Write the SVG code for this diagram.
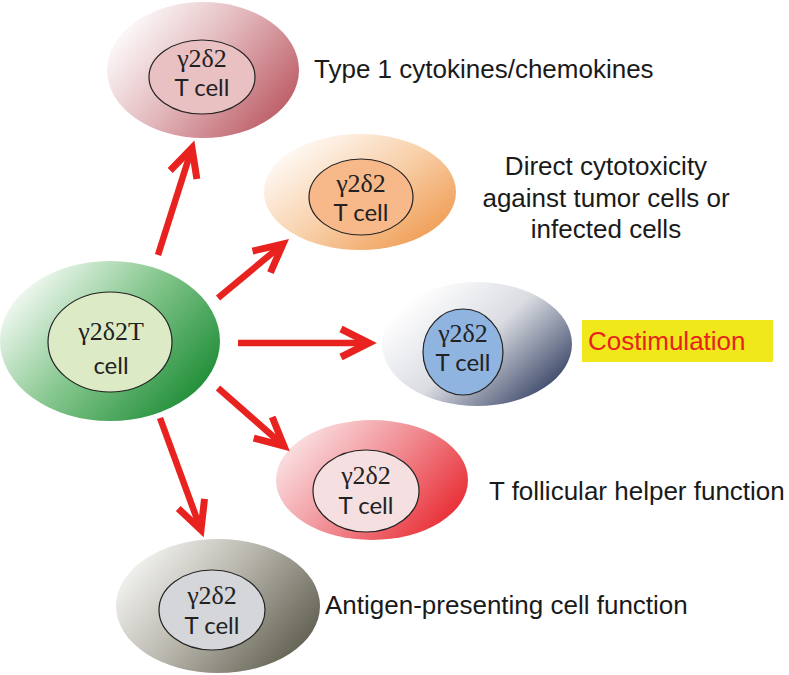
<svg xmlns="http://www.w3.org/2000/svg" width="789" height="675" viewBox="0 0 789 675">
<defs>
<linearGradient id="gTop" x1="0" y1="0.25" x2="1" y2="0.85"><stop offset="0" stop-color="#ffffff"/><stop offset="0.45" stop-color="#e2b8bc"/><stop offset="1" stop-color="#b8505a"/></linearGradient>
<linearGradient id="gOrange" x1="0.05" y1="0.1" x2="1" y2="0.9"><stop offset="0" stop-color="#ffffff"/><stop offset="0.5" stop-color="#f8cfa8"/><stop offset="1" stop-color="#ee9446"/></linearGradient>
<linearGradient id="gGreen" x1="0" y1="0.2" x2="1" y2="0.85"><stop offset="0" stop-color="#ffffff"/><stop offset="0.45" stop-color="#88c890"/><stop offset="1" stop-color="#10852a"/></linearGradient>
<linearGradient id="gBlue" x1="0.1" y1="0.2" x2="1" y2="0.85"><stop offset="0" stop-color="#ffffff"/><stop offset="0.45" stop-color="#dadce2"/><stop offset="1" stop-color="#263458"/></linearGradient>
<linearGradient id="gRed" x1="0" y1="0.25" x2="1" y2="0.8"><stop offset="0" stop-color="#fbe6e8"/><stop offset="0.5" stop-color="#f08a90"/><stop offset="1" stop-color="#e8232a"/></linearGradient>
<linearGradient id="gGray" x1="0" y1="0.25" x2="1" y2="0.8"><stop offset="0" stop-color="#f6f6f4"/><stop offset="0.45" stop-color="#b8b6ac"/><stop offset="1" stop-color="#5a5848"/></linearGradient>
<marker id="arr" markerUnits="userSpaceOnUse" markerWidth="60" markerHeight="60" refX="0" refY="0" viewBox="-40 -30 60 60" orient="auto" overflow="visible">
<path d="M-28,-14 L0,0 L-28,14" fill="none" stroke="#e8231f" stroke-width="7" stroke-linejoin="miter" stroke-miterlimit="10"/>
</marker>
<style>
.inner{stroke:#222;stroke-width:1.2}
.g{font-family:"Liberation Serif","DejaVu Serif",serif;font-size:26px;fill:#222;text-anchor:middle}
.t{font-family:Lato,"Open Sans",sans-serif;font-size:24px;fill:#222;text-anchor:middle}
.lbl{font-family:"Liberation Sans",Arial,sans-serif;font-size:26px;fill:#1a1a1a}
.conn line{stroke:#e8231f;stroke-width:6.5;marker-end:url(#arr)}
</style>
</defs>
<rect width="789" height="675" fill="#ffffff"/>

<g id="cell-top">
<ellipse cx="203" cy="70" rx="96" ry="68" fill="url(#gTop)"/>
<ellipse class="inner" cx="202" cy="77" rx="53" ry="37" fill="#e9c1c3"/>
<text class="g" x="202" y="67">γ2δ2</text>
<text class="t" x="202" y="96">T cell</text>
</g>

<g id="cell-orange">
<ellipse cx="360" cy="192" rx="96" ry="58" fill="url(#gOrange)"/>
<ellipse class="inner" cx="361" cy="197" rx="52" ry="38" fill="#f7b98a"/>
<text class="g" x="361" y="192">γ2δ2</text>
<text class="t" x="361" y="221">T cell</text>
</g>

<g id="cell-green">
<ellipse cx="110" cy="341" rx="110" ry="80" fill="url(#gGreen)"/>
<ellipse class="inner" cx="110" cy="342" rx="62" ry="50" fill="#dcebc6"/>
<text class="g" x="111" y="340">γ2δ2T</text>
<text class="t" x="111" y="374">cell</text>
</g>

<g id="cell-blue">
<ellipse cx="477" cy="344" rx="95" ry="62" fill="url(#gBlue)"/>
<ellipse class="inner" cx="463" cy="352" rx="40" ry="43" fill="#8fb4e0"/>
<text class="g" x="463" y="342">γ2δ2</text>
<text class="t" x="463" y="371">T cell</text>
</g>

<g id="cell-red">
<ellipse cx="372" cy="480" rx="96" ry="60" fill="url(#gRed)"/>
<ellipse class="inner" cx="366" cy="491" rx="53" ry="41" fill="#f5dfe0"/>
<text class="g" x="366" y="484">γ2δ2</text>
<text class="t" x="366" y="514">T cell</text>
</g>

<g id="cell-gray">
<ellipse cx="218" cy="606" rx="102" ry="67" fill="url(#gGray)"/>
<ellipse class="inner" cx="212" cy="610" rx="53" ry="40" fill="#d4d6da"/>
<text class="g" x="212" y="604">γ2δ2</text>
<text class="t" x="212" y="634">T cell</text>
</g>

<g id="labels">
<text class="lbl" x="314" y="78">Type 1 cytokines/chemokines</text>
<text class="lbl" text-anchor="middle" x="606" y="175">Direct cytotoxicity</text>
<text class="lbl" text-anchor="middle" x="606" y="207">against tumor cells or</text>
<text class="lbl" text-anchor="middle" x="606" y="238">infected cells</text>
<g id="costim">
<rect x="582" y="320" width="191" height="42" fill="#f0e81a"/>
<text class="lbl" x="588" y="350" style="fill:#e8231f">Costimulation</text>
</g>
<text class="lbl" x="489" y="500">T follicular helper function</text>
<text class="lbl" x="325" y="614">Antigen-presenting cell function</text>
</g>

<g id="connectors" class="conn">
<line x1="158" y1="255" x2="192" y2="148"/>
<line x1="218" y1="298" x2="283" y2="244"/>
<line x1="238" y1="343" x2="369" y2="343"/>
<line x1="218" y1="388" x2="284" y2="446"/>
<line x1="160" y1="418" x2="201" y2="530"/>
</g>
</svg>
